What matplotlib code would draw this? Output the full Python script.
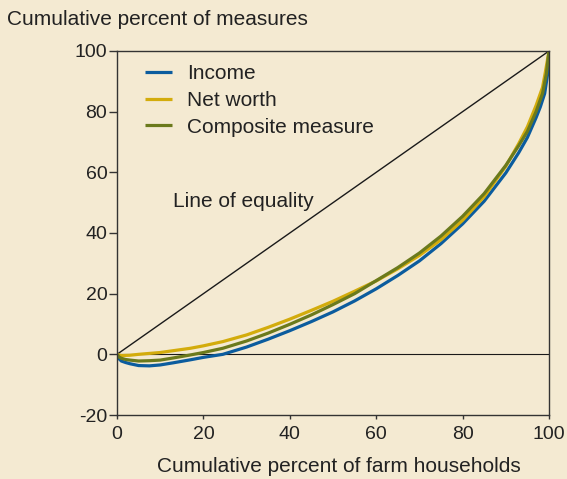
import matplotlib
matplotlib.use("Agg")
import matplotlib.pyplot as plt

plt.rcParams['font.family'] = ['Liberation Sans', 'DejaVu Sans']
plt.rcParams['axes.unicode_minus'] = False

# Lorenz-type curves
income_x = [0, 0.5, 1, 2, 3, 5, 7.5, 10, 13, 17, 20, 24.5, 30, 35, 40, 45, 50, 55, 60, 65, 70, 75, 80, 85, 90, 93, 95, 97, 98, 99, 99.7, 100]
income_y = [0, -1.5, -2.2, -2.7, -3.1, -3.7, -3.8, -3.5, -2.8, -1.8, -1.0, 0, 2.4, 5.0, 7.8, 10.8, 14.0, 17.6, 21.6, 26.0, 30.8, 36.5, 43.0, 50.5, 59.8, 66.5, 71.5, 78.0, 81.6, 86.0, 92.6, 100]

networth_x = [0, 1, 3, 5, 7.5, 10, 13, 17, 20, 24.5, 30, 35, 40, 45, 50, 55, 60, 65, 70, 75, 80, 85, 90, 93, 95, 97, 98.5, 99.1, 100]
networth_y = [0, -0.4, -0.3, 0.0, 0.3, 0.6, 1.2, 2.0, 2.8, 4.2, 6.4, 8.9, 11.6, 14.5, 17.5, 20.8, 24.2, 28.2, 32.6, 37.8, 44.2, 52.0, 62.0, 69.5, 75.0, 82.0, 88.0, 92.6, 100]

composite_x = [0, 0.5, 1, 2, 3, 5, 7.5, 10, 13, 17, 20, 24.5, 30, 35, 40, 45, 50, 55, 60, 65, 70, 75, 80, 85, 90, 93, 95, 97, 98.5, 99.4, 100]
composite_y = [0, -0.9, -1.3, -1.7, -1.9, -2.2, -2.1, -1.9, -1.2, -0.2, 0.6, 2.0, 4.4, 7.0, 9.9, 13.0, 16.4, 20.0, 24.3, 28.6, 33.4, 39.0, 45.5, 53.0, 62.3, 68.8, 73.5, 80.0, 86.0, 92.6, 100]

equality = [0, 100]

xticks = [0, 20, 40, 60, 80, 100]
yticks = [-20, 0, 20, 40, 60, 80, 100]

bg = '#f4ead2'
ink = '#222222'
fig = plt.figure(figsize=(5.67, 4.79), dpi=100, facecolor=bg)
ax = fig.add_axes([117 / 567, 1 - 415 / 479, 432 / 567, 364 / 479], facecolor=bg)

ax.plot(equality, equality, color='#1a1a1a', lw=1.0)
ax.axhline(0, color='#1a1a1a', lw=0.8)

ax.plot(income_x, income_y, color='#0b5c9e', lw=2.3, label='Income', solid_capstyle='butt')
ax.plot(networth_x, networth_y, color='#d3ac0c', lw=2.3, label='Net worth', solid_capstyle='butt')
ax.plot(composite_x, composite_y, color='#6b7a1c', lw=2.3, label='Composite measure', solid_capstyle='butt')

ax.set_xlim(0, 100)
ax.set_ylim(-20, 100)
ax.set_xticks(xticks)
ax.set_yticks(yticks)
ax.tick_params(axis='both', labelsize=14, color='#333333', labelcolor=ink, width=1)
ax.tick_params(axis='y', length=6, pad=1)
ax.tick_params(axis='x', length=3, pad=5)
for s in ax.spines.values():
    s.set_color('#333333')
    s.set_linewidth(1.0)

ax.text(13, 48.7, 'Line of equality', fontsize=15, color=ink, va='baseline')

leg = ax.legend(loc='upper left', bbox_to_anchor=(0.065, 0.9635), frameon=False, fontsize=15,
                handlelength=1.3, handletextpad=0.72, labelspacing=0.37, borderaxespad=0, borderpad=0)
for t in leg.get_texts():
    t.set_color(ink)

fig.text(7 / 567, 1 - 25 / 479, 'Cumulative percent of measures', fontsize=15, color=ink, va='baseline')
fig.text(338.5 / 567, 1 - 471.5 / 479, 'Cumulative percent of farm households', fontsize=15, color=ink,
         ha='center', va='baseline')

fig.savefig('out.png', dpi=100, facecolor=bg)
